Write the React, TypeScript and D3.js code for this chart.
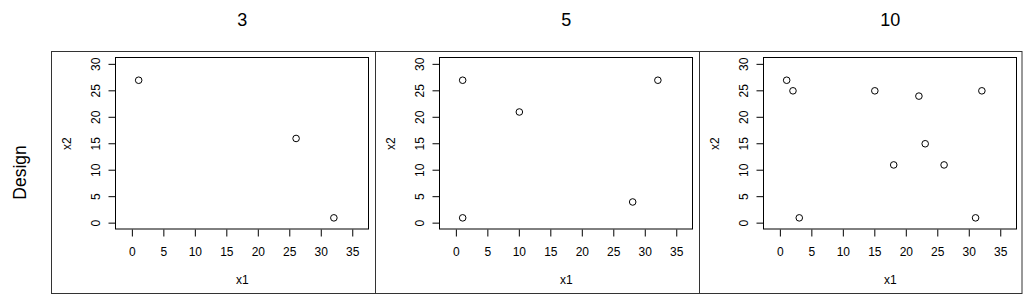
import React from "react";
import * as d3 from "d3";

const panels = ["3", "5", "10"];
const x1_3 = [1, 26, 32];
const x2_3 = [27, 16, 1];
const x1_5 = [1, 1, 10, 28, 32];
const x2_5 = [27, 1, 21, 4, 27];
const x1_10 = [1, 2, 3, 15, 18, 22, 23, 26, 31, 32];
const x2_10 = [27, 25, 1, 25, 11, 24, 15, 11, 1, 25];
const xTicks = [0, 5, 10, 15, 20, 25, 30, 35];
const yTicks = [0, 5, 10, 15, 20, 25, 30];
const rowLabel = "Design";
const xLabel = "x1";
const yLabel = "x2";

const series = [
  { x: x1_3, y: x2_3 },
  { x: x1_5, y: x2_5 },
  { x: x1_10, y: x2_10 },
];

const W = 1024;
const H = 302;
const outerL = 52;
const outerR = 1024;
const outerT = 51.5;
const outerB = 293.5;
const plotT = 58;
const plotB = 229.5;
const padL = 64;
const padR = 7.5;
const font = "'Liberation Sans', Arial, Helvetica, sans-serif";

export default function App() {
  const band = d3.scaleBand<string>().domain(panels).range([outerL, outerR]).padding(0);
  const y = d3.scaleLinear().domain([-1.2, 31.2]).range([plotB, plotT]);
  const dy = (outerT + outerB) / 2;
  return (
    <svg
      width={W}
      height={H}
      style={{ position: "absolute", left: 0, top: 0, background: "#fff" }}
      fontFamily={font}
    >
      <rect x={outerL - 0.5} y={outerT} width={outerR - outerL - 1.5} height={outerB - outerT} fill="none" stroke="#333" strokeWidth={1} />
      <text x={20} y={dy} transform={`rotate(-90 20 ${dy})`} textAnchor="middle" dominantBaseline="central" fontSize={17.5}>
        {rowLabel}
      </text>
      {panels.map((p, i) => {
        const cl = band(p)!;
        const cr = cl + band.bandwidth();
        const pl = cl + padL;
        const pr = cr - padR;
        const x = d3.scaleLinear().domain([-2.6, 37.5]).range([pl, pr]);
        const s = series[i];
        return (
          <g key={p}>
            {i > 0 && <line x1={Math.round(cl) - 0.5} x2={Math.round(cl) - 0.5} y1={outerT} y2={outerB} stroke="#333" />}
            <text x={(pl + pr) / 2} y={20} textAnchor="middle" dominantBaseline="central" fontSize={18}>
              {p}
            </text>
            <rect x={Math.round(pl) - 0.5} y={plotT - 0.5} width={Math.round(pr) - Math.round(pl)} height={plotB - plotT} fill="none" stroke="#000" />
            {xTicks.map((t) => (
              <g key={"x" + t}>
                <line x1={x(t)} x2={x(t)} y1={plotB} y2={plotB + 7} stroke="#000" />
                <text x={x(t)} y={252} textAnchor="middle" dominantBaseline="central" fontSize={12}>
                  {t}
                </text>
              </g>
            ))}
            {yTicks.map((t) => (
              <g key={"y" + t}>
                <line x1={Math.round(pl) - 0.5} x2={Math.round(pl) - 7.5} y1={y(t)} y2={y(t)} stroke="#000" />
                <text x={pl - 20} y={y(t)} transform={`rotate(-90 ${pl - 20} ${y(t)})`} textAnchor="middle" dominantBaseline="central" fontSize={12}>
                  {t}
                </text>
              </g>
            ))}
            <text x={(pl + pr) / 2} y={280} textAnchor="middle" dominantBaseline="central" fontSize={12}>
              {xLabel}
            </text>
            <text x={pl - 49.5} y={(plotT + plotB) / 2} transform={`rotate(-90 ${pl - 49.5} ${(plotT + plotB) / 2})`} textAnchor="middle" dominantBaseline="central" fontSize={12}>
              {yLabel}
            </text>
            {s.x.map((xv, j) => (
              <circle key={j} cx={x(xv)} cy={y(s.y[j])} r={3.3} fill="none" stroke="#000" strokeWidth={1} />
            ))}
          </g>
        );
      })}
    </svg>
  );
}
